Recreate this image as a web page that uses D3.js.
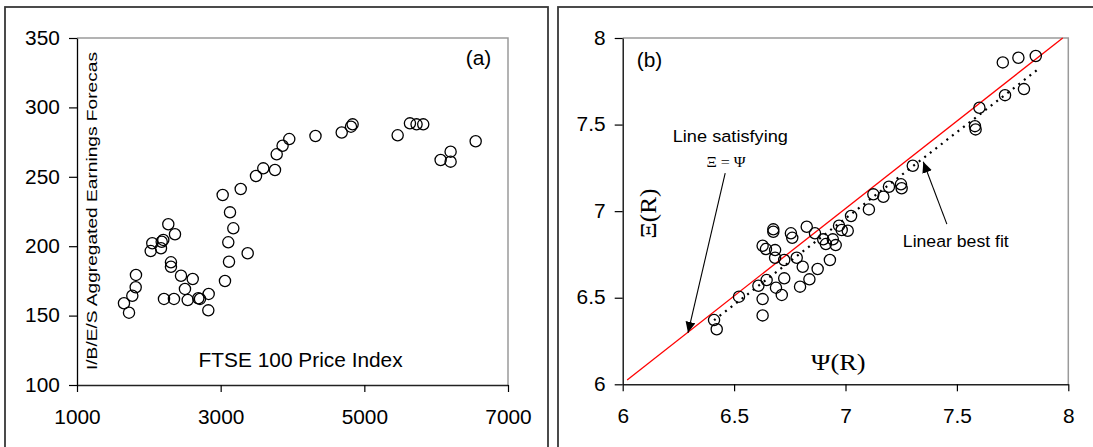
<!DOCTYPE html>
<html>
<head>
<meta charset="utf-8">
<script src="https://cdn.jsdelivr.net/npm/d3@7"></script>
<style>
  body { margin: 0; background: #fff; }
  svg { display: block; }
</style>
</head>
<body>
<div id="chart"></div>
<script>
// panel (a): FTSE 100 price index vs I/B/E/S aggregated earnings forecasts
const ftseIndex = [3130, 3176, 3106, 3376, 3116, 3060, 2271, 2364, 2048, 2026, 2179, 2201, 2169, 2308, 2308,
  2448, 2611, 2503, 1821, 1817, 1770, 1654, 1724, 2211, 2350, 2541, 2689, 2712, 2833, 2828,
  3955, 3862, 3780, 3756, 3593, 3492, 3279, 3028, 4320, 4685, 4814, 4837, 5464, 5635, 5727,
  5820, 6201, 6062, 6201, 6550];
const ibesForecast = [224.4, 212.9, 202.8, 194.9, 188.8, 174.9, 215.8, 208.6, 202.1, 196.5, 203.2, 204.5, 198.5, 188.4, 185.2,
  178.7, 176.4, 169.2, 179.3, 170.4, 164.3, 158.9, 152.1, 162, 162, 161.2, 162.5, 162, 165.6, 153.8,
  277.2, 272.4, 266.2, 254.9, 256.1, 250.6, 241.2, 236.9, 279.4, 281.9, 286.1, 287.8, 279.9, 288.5, 287.8,
  287.8, 268.1, 262.1, 260.9, 275.6];
const xTicksA = [1000, 3000, 5000, 7000];
const yTicksA = [100, 150, 200, 250, 300, 350];

// panel (b): Psi(R) vs Xi(R)
const psiR = [6.410, 6.422, 6.522, 6.609, 6.646, 6.628, 6.628, 6.688, 6.714, 6.725, 6.796, 6.838, 6.875, 6.808, 6.781,
  6.725, 6.684, 6.684, 6.628, 6.643, 6.676, 6.676, 6.755, 6.761, 6.826, 6.863, 6.930, 6.900, 6.912, 6.943,
  6.956, 6.971, 6.983, 7.010, 7.025, 7.105, 7.125, 7.170, 7.195, 7.249, 7.252, 7.302, 7.581, 7.584, 7.601,
  7.716, 7.801, 7.706, 7.776, 7.854];
const xiR = [6.371, 6.318, 6.506, 6.569, 6.602, 6.492, 6.398, 6.558, 6.516, 6.612, 6.564, 6.606, 6.666, 6.679, 6.731,
  6.718, 6.731, 6.775, 6.800, 6.781, 6.895, 6.881, 6.872, 6.846, 6.910, 6.872, 6.718, 6.837, 6.810, 6.837,
  6.804, 6.916, 6.891, 6.887, 6.972, 7.010, 7.097, 7.083, 7.141, 7.155, 7.132, 7.262, 7.491, 7.472, 7.597,
  7.670, 7.705, 7.859, 7.886, 7.896];
const identityLine = [[6.02, 6.025], [7.975, 8]];
const bestFitLine = [[6.41, 6.37], [7.86, 7.815]];
const ticksB = [6, 6.5, 7, 7.5, 8];
// arrows: [fromX, fromY, toX, toY] in data units
const arrowsB = [[6.46, 7.22, 6.293, 6.297], [7.455, 6.925, 7.349, 7.285]];

const width = 1093, height = 447;
const SANS = "'Liberation Sans', Arial, sans-serif";
const SERIF = "'Liberation Serif', 'Times New Roman', serif";
const SX = 1.07; // the source image is slightly stretched horizontally

const svg = d3.select("#chart").append("svg")
  .attr("width", width)
  .attr("height", height);

const defs = svg.append("defs");
defs.append("marker")
  .attr("id", "arrow")
  .attr("markerUnits", "userSpaceOnUse")
  .attr("markerWidth", 12).attr("markerHeight", 11)
  .attr("refX", 11).attr("refY", 5)
  .attr("orient", "auto")
  .append("path")
  .attr("d", "M0,0L11,5L0,10Z")
  .attr("fill", "#000");

// outer frames
svg.append("rect").attr("x", 5).attr("y", 7).attr("width", 543).attr("height", 470)
  .attr("fill", "none").attr("stroke", "#383838").attr("stroke-width", 1.8);
svg.append("rect").attr("x", 558).attr("y", 7).attr("width", 560).attr("height", 470)
  .attr("fill", "none").attr("stroke", "#383838").attr("stroke-width", 1.8);

function addText(g, x, y, txt, o = {}) {
  return g.append("text")
    .attr("transform", `translate(${x},${y}) rotate(${o.rotate || 0}) scale(${o.sx || SX},1)`)
    .attr("font-family", o.family || SANS)
    .attr("font-size", o.size || 19.5)
    .attr("text-anchor", o.anchor || "start")
    .attr("fill", "#000")
    .text(txt);
}

function drawFrame(g, x, y, xTicks, yTicks) {
  const [x0, x1] = x.range(), [y0, y1] = y.range();
  // grey top / right border of the plot area
  g.append("path")
    .attr("d", `M${x0},${y1}H${x1}V${y0}`)
    .attr("fill", "none").attr("stroke", "#9a9a9a").attr("stroke-width", 1.5);

  const fmt = d3.format("~g");
  g.append("g")
    .attr("transform", `translate(${x0},0)`)
    .call(d3.axisLeft(y).tickValues(yTicks).tickSize(8).tickSizeOuter(0).tickPadding(8).tickFormat(fmt))
    .call(a => {
      a.attr("font-size", 19.5).attr("font-family", SANS);
      a.select(".domain").attr("stroke", "#000").attr("stroke-width", 1.3);
      a.selectAll("line").attr("stroke-width", 1.2);
      a.selectAll("text").attr("fill", "#000").attr("transform", `scale(${SX},1)`);
    });

  g.append("g")
    .attr("transform", `translate(0,${y0})`)
    .call(d3.axisBottom(x).tickValues(xTicks).tickSize(7).tickSizeOuter(0).tickPadding(18).tickFormat(fmt))
    .call(a => {
      a.attr("font-size", 19.5).attr("font-family", SANS);
      a.select(".domain").attr("stroke", "#222").attr("stroke-width", 1.5);
      a.selectAll("line").attr("stroke-width", 1.2);
      a.selectAll("text").attr("fill", "#000").attr("transform", `scale(${SX},1)`);
    });
}

function drawPoints(g, x, y, xs, ys) {
  g.append("g")
    .selectAll("circle")
    .data(xs.map((v, i) => [v, ys[i]]))
    .join("circle")
    .attr("cx", d => x(d[0]))
    .attr("cy", d => y(d[1]))
    .attr("r", 5.6)
    .attr("fill", "none")
    .attr("stroke", "#000")
    .attr("stroke-width", 1.3);
}

// ---------- panel (a) ----------
const xA = d3.scaleLinear().domain([1000, 7000]).range([77, 508]);
const yA = d3.scaleLinear().domain([100, 350]).range([385, 38]);
const gA = svg.append("g");
drawFrame(gA, xA, yA, xTicksA, yTicksA);

defs.append("clipPath").attr("id", "clipA")
  .append("rect").attr("x", 60).attr("y", 52).attr("width", 60).attr("height", 340);
addText(gA.append("g").attr("clip-path", "url(#clipA)"), xA(1285), yA(110.8),
  "I/B/E/S Aggregated Earnings Forecast", { rotate: -90, size: 15.5, sx: 1.235 });
addText(gA, xA(2693), yA(112.7), "FTSE 100 Price Index");
addText(gA, xA(6411), yA(330.5), "(a)");
drawPoints(gA, xA, yA, ftseIndex, ibesForecast);

// ---------- panel (b) ----------
const xB = d3.scaleLinear().domain([6, 8]).range([622.7, 1068.3]);
const yB = d3.scaleLinear().domain([6, 8]).range([384.3, 38]);
const gB = svg.append("g");
drawFrame(gB, xB, yB, ticksB, ticksB);

const line = d3.line().x(d => xB(d[0])).y(d => yB(d[1]));
gB.append("path").attr("d", line(identityLine))
  .attr("fill", "none").attr("stroke", "#ff0000").attr("stroke-width", 1.3);
gB.append("path").attr("d", line(bestFitLine))
  .attr("fill", "none").attr("stroke", "#000").attr("stroke-width", 2.2)
  .attr("stroke-dasharray", "2,5");

drawPoints(gB, xB, yB, psiR, xiR);

gB.append("g")
  .selectAll("line")
  .data(arrowsB)
  .join("line")
  .attr("x1", d => xB(d[0])).attr("y1", d => yB(d[1]))
  .attr("x2", d => xB(d[2])).attr("y2", d => yB(d[3]))
  .attr("stroke", "#000").attr("stroke-width", 1.1)
  .attr("marker-end", "url(#arrow)");

addText(gB, xB(6.063), yB(7.834), "(b)");
addText(gB, xB(6.483), yB(7.40), "Line satisfying", { anchor: "middle", size: 17 });
addText(gB, xB(6.464), yB(7.256), "\u039E = \u03A8", { anchor: "middle", size: 15, family: SERIF });
addText(gB, xB(7.495), yB(6.791), "Linear best fit", { anchor: "middle", size: 16.5 });
addText(gB, xB(6.845), yB(6.083), "\u03A8(R)", { size: 24, family: SERIF, sx: 1.1 });
addText(gB, xB(6.15), yB(6.986), "\u039E(R)", { anchor: "middle", rotate: -90, size: 24, family: SERIF, sx: 1.05 });
</script>
</body>
</html>
